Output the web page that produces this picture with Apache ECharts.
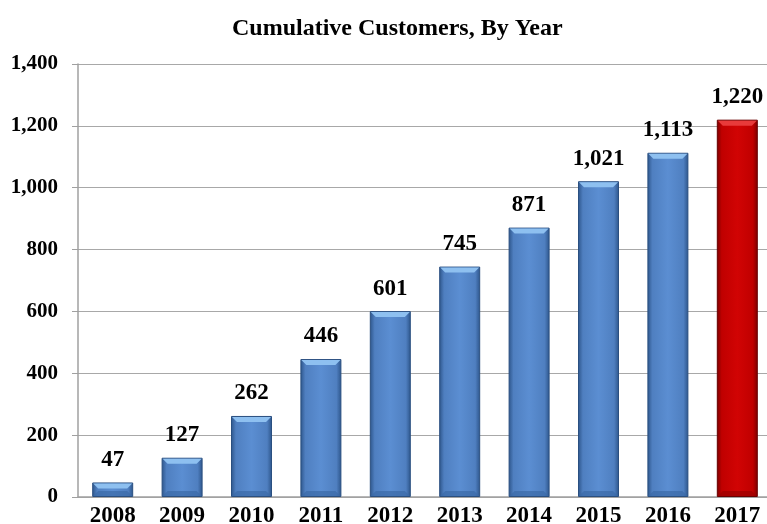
<!DOCTYPE html>
<html><head><meta charset="utf-8">
<script src="https://cdn.jsdelivr.net/npm/echarts@6/dist/echarts.min.js"></script>
<style>html,body{margin:0;padding:0;background:#fff}#c{width:767px;height:524px}</style>
</head><body><div id="c"></div>
<script>
const years = ['2008','2009','2010','2011','2012','2013','2014','2015','2016','2017'];
const customers = [47,127,262,446,601,745,871,1021,1113,1220];
const yTicks = {min:0, max:1400, interval:200};

const serif = '"Liberation Serif","Times New Roman",serif';
function grad(edge, mid, light){
  return new echarts.graphic.LinearGradient(0,0,1,0,[
    {offset:0,color:edge},{offset:0.12,color:mid},{offset:0.5,color:light},{offset:0.88,color:mid},{offset:1,color:edge}]);
}
const blue = grad('#2c5489','#4f7fc0','#5b8ed2');
const red = grad('#7a0000','#c00000','#d10404');
const lastIdx = customers.length-1;
const chart = echarts.init(document.getElementById('c'));
chart.setOption({
  animation:false,
  title:{text:'Cumulative Customers, By Year',left:227,top:12,
    textStyle:{fontFamily:serif,fontWeight:'bold',fontSize:24,color:'#000'}},
  grid:{left:78,right:-5,top:64,bottom:27,containLabel:false,outerBoundsMode:'none'},
  xAxis:{type:'category',data:years,
    axisLine:{lineStyle:{color:'#a0a0a0',width:1.5}},
    axisTick:{show:false},
    axisLabel:{fontFamily:serif,fontWeight:'bold',fontSize:23,color:'#000',margin:8}},
  yAxis:{type:'value',min:yTicks.min,max:yTicks.max,interval:yTicks.interval,
    axisLine:{show:true,lineStyle:{color:'#a0a0a0',width:1.5}},
    axisTick:{show:true,length:6,lineStyle:{color:'#a0a0a0'}},
    splitLine:{lineStyle:{color:'#a8a8a8',width:1}},
    axisLabel:{fontFamily:serif,fontWeight:'bold',fontSize:21,color:'#000',margin:20,
      formatter:v=>v.toLocaleString('en-US')}},
  series:[{type:'bar',barWidth:41,
    data:customers.map((v,i)=>({value:v,itemStyle:{color:i===lastIdx?red:blue,
      borderColor:i===lastIdx?'#6a0000':'#2a4f80',borderWidth:1}})),
    label:{show:true,position:'top',distance:11,fontFamily:serif,fontWeight:'bold',fontSize:23,color:'#000',
      formatter:p=>p.value.toLocaleString('en-US')}},
   {type:'custom',silent:true,z:3,
    data:customers.map((v,i)=>[i,v]),
    renderItem:(params,api)=>{
      const top = api.coord([api.value(0),api.value(1)]);
      const bot = api.coord([api.value(0),0]);
      const w = 41, x0 = top[0]-w/2, x1 = top[0]+w/2, b = 6;
      const isRed = params.dataIndex===lastIdx;
      const hi = isRed ? '#e83a3a' : '#8ec0f0';
      const lo = isRed ? '#9a0000' : '#3b6aa6';
      return {type:'group',children:[
        {type:'polygon',shape:{points:[[x0+1,top[1]+1],[x1-1,top[1]+1],[x1-b,top[1]+b],[x0+b,top[1]+b]]},
         style:{fill:hi}},
        {type:'polygon',shape:{points:[[x0+1,bot[1]-1],[x1-1,bot[1]-1],[x1-b,bot[1]-b],[x0+b,bot[1]-b]]},
         style:{fill:lo,opacity:0.7}}
      ]};
    }}]
});
</script></body></html>
